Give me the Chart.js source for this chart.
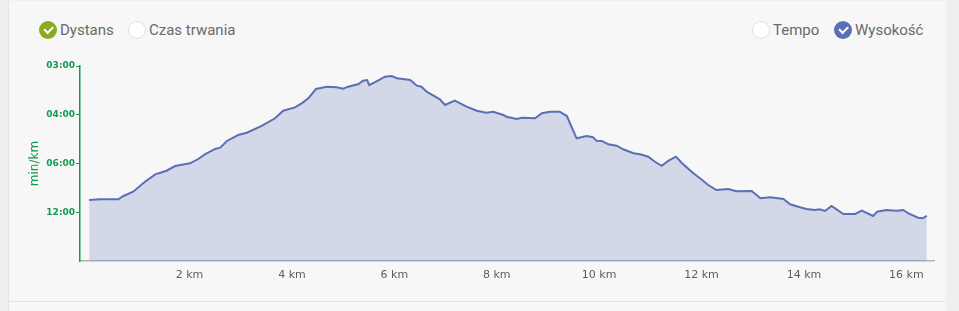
<!DOCTYPE html>
<html>
<head>
<meta charset="utf-8">
<script src="https://cdn.jsdelivr.net/npm/chart.js@4.4.1/dist/chart.umd.min.js"></script>
<style>
  html, body { margin: 0; padding: 0; width: 959px; height: 311px; overflow: hidden; background: #efefef; }
  .card { position: absolute; left: 8px; top: 0; width: 938px; height: 311px; background: #f7f7f7;
          border-left: 1px solid #e3e3e3; border-top: 1px solid #f0f0f0; box-sizing: border-box; }
  .card .foot { position: absolute; left: 0; right: 0; top: 300px; height: 1px; background: #e3e3e3; }
  #chart { position: absolute; left: 0; top: 0; }
  .lg { position: absolute; top: 21px; height: 18px; display: flex; align-items: center;
        font-family: Roboto, "Noto Sans", sans-serif; font-size: 15px; color: #6a6a6a; white-space: nowrap; }
  .lg .dot { width: 18px; height: 18px; border-radius: 50%; box-sizing: border-box; margin-right: 3px;
             position: relative; background: #fff; border: 1px solid #e2e2e2; }
  .lg .dot.on { border: none; }
  .lg .dot.on::after { content: ""; position: absolute; left: 5px; top: 5px; width: 7px; height: 3.5px;
                       border-left: 2.5px solid #fff; border-bottom: 2.5px solid #fff; transform: rotate(-45deg); }
</style>
</head>
<body>
<div class="card"><div class="foot"></div></div>
<div class="lg" style="left:39px"><span class="dot on" style="background:#8aab1d"></span>Dystans</div>
<div class="lg" style="left:128px"><span class="dot"></span>Czas trwania</div>
<div class="lg" style="left:752px"><span class="dot"></span>Tempo</div>
<div class="lg" style="left:834px"><span class="dot on" style="background:#5b6fb5"></span>Wysokość</div>
<canvas id="chart" width="959" height="311"></canvas>
<script>
// dystans (km) i wysokość (m)
const distanceKm = [0.04, 0.25, 0.45, 0.61, 0.71, 0.90, 1.13, 1.33, 1.55, 1.72, 2.01, 2.17, 2.30, 2.50, 2.60,
  2.73, 2.95, 3.12, 3.41, 3.67, 3.83, 4.06, 4.19, 4.32, 4.47, 4.68, 4.87, 5.00, 5.10, 5.30, 5.39, 5.47, 5.51,
  5.66, 5.82, 5.95, 6.05, 6.31, 6.44, 6.53, 6.63, 6.89, 6.99, 7.18, 7.41, 7.61, 7.80, 7.93, 8.13, 8.19, 8.39,
  8.49, 8.75, 8.88, 9.04, 9.23, 9.37, 9.56, 9.76, 9.88, 9.95, 10.05, 10.18, 10.34, 10.47, 10.67, 10.80, 10.96,
  11.09, 11.22, 11.35, 11.50, 11.61, 11.84, 11.97, 12.13, 12.29, 12.52, 12.68, 12.98, 13.15, 13.34, 13.60,
  13.73, 13.92, 14.05, 14.21, 14.31, 14.41, 14.54, 14.77, 15.00, 15.13, 15.35, 15.43, 15.61, 15.81, 15.94,
  16.04, 16.23, 16.32, 16.40];
const elevation = [62.6, 63.3, 63.3, 63.3, 66.7, 71.1, 81.3, 88.9, 92.6, 97.4, 100.2, 104.6, 109.4, 114.9, 116.2,
  123.1, 129.2, 131.6, 138.5, 146.4, 154.1, 157.6, 161.7, 166.9, 176.4, 178.8, 178.2, 176.7, 178.8, 181.5, 184.9,
  185.6, 180.5, 184.6, 189.0, 189.7, 187.4, 185.6, 179.8, 178.8, 173.6, 165.8, 160.0, 164.4, 158.3, 154.1, 152.1,
  153.1, 149.7, 148.0, 145.6, 147.0, 146.4, 151.5, 153.1, 153.1, 148.7, 125.8, 128.2, 126.9, 123.4, 123.1, 119.7,
  118.3, 114.6, 110.5, 109.4, 107.0, 101.8, 97.7, 102.6, 107.0, 100.8, 89.9, 84.8, 77.9, 72.8, 73.8, 71.5, 71.8,
  64.3, 65.3, 63.6, 58.2, 55.1, 53.3, 52.3, 53.0, 51.3, 56.4, 48.2, 48.2, 51.6, 46.2, 50.6, 52.3, 51.6, 52.3,
  48.9, 44.4, 43.8, 46.2];

// oś tempa: prędkość km/h -> etykieta min/km
const paceTickValues = [5, 10, 15, 20];
const paceTickLabels = ['12:00', '06:00', '04:00', '03:00'];
const kmTicks = [2, 4, 6, 8, 10, 12, 14, 16];

const green = '#129a50';

new Chart(document.getElementById('chart'), {
  type: 'line',
  data: {
    datasets: [{
      label: 'Wysokość',
      data: distanceKm.map((d, i) => ({ x: d, y: elevation[i] })),
      yAxisID: 'elev',
      borderColor: '#5b6fb5',
      backgroundColor: 'rgba(91, 112, 180, 0.23)',
      borderWidth: 2,
      fill: 'origin',
      pointRadius: 0,
      tension: 0
    }]
  },
  options: {
    responsive: false,
    animation: false,
    layout: { padding: { left: 24, top: 66, right: 25, bottom: 0 } },
    plugins: { legend: { display: false }, tooltip: { enabled: false } },
    scales: {
      x: {
        type: 'linear',
        min: -0.139,
        max: 16.54,
        afterBuildTicks: s => { s.ticks = kmTicks.map(v => ({ value: v })); },
        afterFit: s => { s.height = 50; },
        grid: { display: false, drawTicks: false },
        border: { display: true, color: '#b3b3b3', width: 1.5 },
        ticks: {
          padding: 8,
          color: '#5e5e5e',
          font: { family: 'DejaVu Sans', size: 11 },
          callback: v => v + ' km'
        }
      },
      y: {
        position: 'left',
        min: 0,
        max: 20,
        afterBuildTicks: s => { s.ticks = paceTickValues.map(v => ({ value: v })); },
        afterFit: s => { s.width = 56; },
        grid: { display: true, drawOnChartArea: false, drawTicks: true, tickLength: 4, color: green },
        border: { display: true, color: green, width: 1.5 },
        ticks: {
          padding: 1,
          color: green,
          font: { family: 'DejaVu Sans', size: 9, weight: 'bold' },
          callback: v => paceTickLabels[paceTickValues.indexOf(v)]
        },
        title: {
          display: true,
          text: 'min/km',
          color: green,
          font: { family: 'DejaVu Sans', size: 12 }
        }
      },
      elev: {
        display: false,
        min: 0,
        max: 200
      }
    }
  }
});
</script>
</body>
</html>
